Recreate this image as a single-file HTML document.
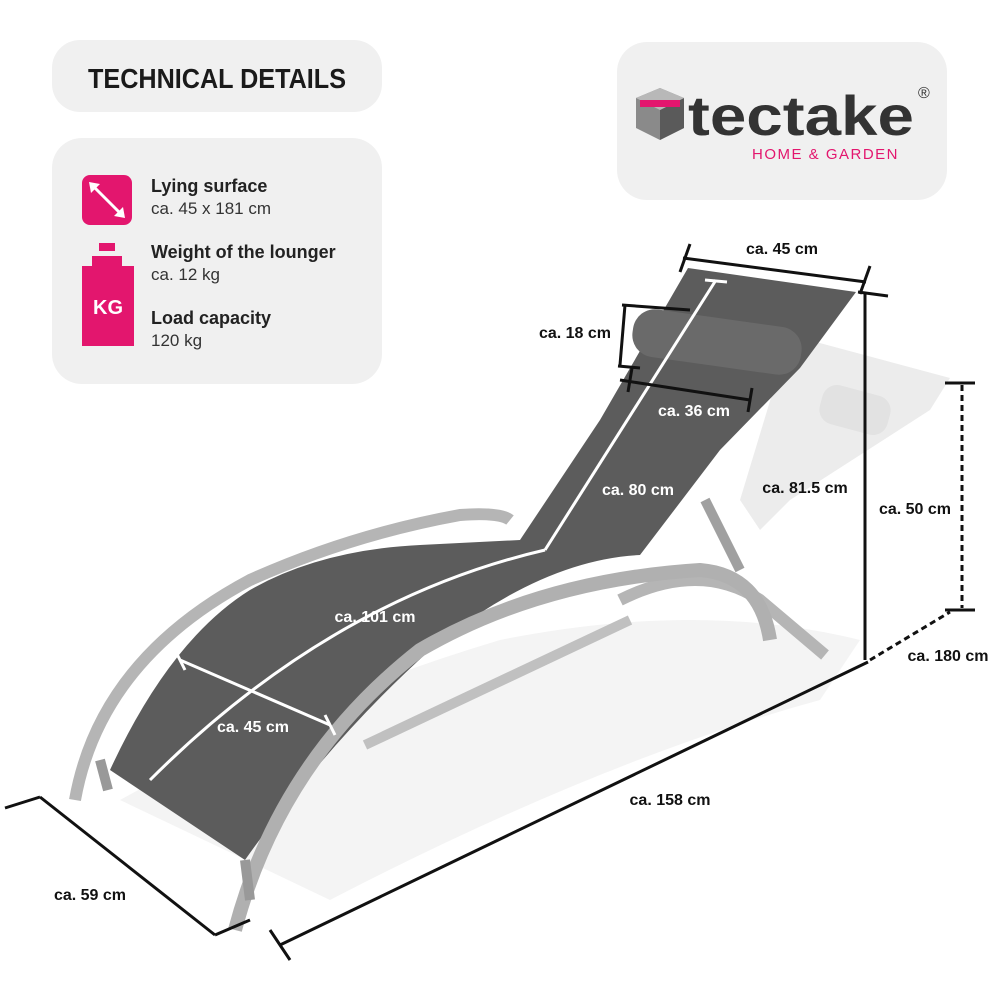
<!DOCTYPE html>
<html><head><meta charset="utf-8"><style>
html,body{margin:0;padding:0;background:#fff}
svg{display:block}
text{font-family:"Liberation Sans",sans-serif}
</style></head><body>
<svg width="1000" height="1000" viewBox="0 0 1000 1000" xmlns="http://www.w3.org/2000/svg">
<rect width="1000" height="1000" fill="#fff"/>
<!-- floor shadow -->
<path d="M120,800 Q300,700 500,640 Q700,600 860,640 L820,700 Q600,760 330,900 Z" fill="#f4f4f4"/>
<!-- panels -->
<rect x="52" y="40" width="330" height="72" rx="28" fill="#f0f0f0"/>
<text x="88" y="88" font-size="28" font-weight="bold" fill="#1a1a1a" textLength="258" lengthAdjust="spacingAndGlyphs">TECHNICAL DETAILS</text>
<rect x="52" y="138" width="330" height="246" rx="30" fill="#f0f0f0"/>
<rect x="82" y="175" width="50" height="50" rx="8" fill="#e3166e"/>
<line x1="92" y1="185" x2="122" y2="215" stroke="#fff" stroke-width="3"/>
<polygon points="89,182 100,184 91,193" fill="#fff"/>
<polygon points="125,218 114,216 123,207" fill="#fff"/>
<rect x="99" y="243" width="16" height="8" fill="#e3166e"/>
<path d="M92,256 L122,256 L122,266 L134,266 L134,346 L82,346 L82,266 L92,266 Z" fill="#e3166e"/>
<text x="108" y="314" font-size="20" font-weight="bold" fill="#fff" text-anchor="middle">KG</text>
<text x="151" y="192" font-size="18" font-weight="bold" fill="#222">Lying surface</text>
<text x="151" y="214" font-size="17" fill="#333">ca. 45 x 181 cm</text>
<text x="151" y="258" font-size="18" font-weight="bold" fill="#222">Weight of the lounger</text>
<text x="151" y="280" font-size="17" fill="#333">ca. 12 kg</text>
<text x="151" y="324" font-size="18" font-weight="bold" fill="#222">Load capacity</text>
<text x="151" y="346" font-size="17" fill="#333">120 kg</text>
<!-- logo -->
<rect x="617" y="42" width="330" height="158" rx="30" fill="#f0f0f0"/>
<polygon points="636,98 660,88 684,98 684,128 660,140 636,128" fill="#8a8a8a"/>
<polygon points="660,110 684,98 684,128 660,140" fill="#5a5a5a"/>
<polygon points="636,98 660,88 684,98 660,110" fill="#b8b8b8"/>
<rect x="640" y="100" width="40" height="7" fill="#e3166e"/>
<text x="688" y="135" font-size="56" font-weight="bold" fill="#333" textLength="226" lengthAdjust="spacingAndGlyphs">tectake</text>
<text x="918" y="98" font-size="16" fill="#333">®</text>
<text x="752" y="159" font-size="15" fill="#e3166e" letter-spacing="1.5">HOME &amp; GARDEN</text>
<!-- ghost reclined back -->
<polygon points="790,335 950,378 930,410 790,500 760,530 740,500" fill="#ececec"/>
<rect x="820" y="390" width="70" height="40" rx="15" fill="#e2e2e2" transform="rotate(15 855 410)"/>
<!-- frame back tubes -->
<path d="M620,600 Q700,560 760,600 L825,655" fill="none" stroke="#b5b5b5" stroke-width="12"/>
<path d="M365,745 L630,620" fill="none" stroke="#c0c0c0" stroke-width="10"/>
<path d="M705,500 L740,570" fill="none" stroke="#a0a0a0" stroke-width="10"/>
<!-- fabric -->
<path d="M688,268 L856,292 L800,368 L720,450 L640,555 Q540,560 430,650 Q330,740 245,860 L110,770 Q170,640 250,590 Q320,550 420,545 L520,540 L600,420 Z" fill="#5c5c5c"/>
<rect x="632" y="318" width="170" height="48" rx="22" fill="#6a6a6a" transform="rotate(8 717 342)"/>
<!-- frame front -->
<path d="M75,800 Q100,660 250,580 Q350,535 460,515 Q500,512 510,520" fill="none" stroke="#b5b5b5" stroke-width="12"/>
<path d="M235,930 Q280,760 420,650 Q540,580 700,570 Q760,575 770,640" fill="none" stroke="#b0b0b0" stroke-width="14"/>
<path d="M100,760 L108,790 M245,860 L250,900" stroke="#999" stroke-width="10"/>
<!-- white dims -->
<g stroke="#fff" stroke-width="3" fill="none">
<line x1="716" y1="280" x2="545" y2="550"/>
<line x1="705" y1="280" x2="727" y2="282"/>
<path d="M545,550 Q330,600 150,780"/>
<line x1="180" y1="660" x2="330" y2="725"/>
<line x1="175" y1="650" x2="185" y2="670"/><line x1="325" y1="715" x2="335" y2="735"/>
</g>
<!-- black dims -->
<g stroke="#111" stroke-width="3" fill="none">
<line x1="683" y1="258" x2="866" y2="282"/>
<line x1="690" y1="244" x2="680" y2="272"/><line x1="870" y1="266" x2="860" y2="294"/>
<line x1="625" y1="305" x2="620" y2="365"/>
<line x1="622" y1="305" x2="690" y2="310"/><line x1="618" y1="366" x2="640" y2="368"/>
<line x1="620" y1="380" x2="750" y2="400"/>
<line x1="632" y1="368" x2="628" y2="392"/><line x1="752" y1="388" x2="748" y2="412"/>
<line x1="865" y1="292" x2="865" y2="660"/>
<line x1="858" y1="292" x2="888" y2="296"/>
<line x1="280" y1="945" x2="868" y2="662"/>
<line x1="270" y1="930" x2="290" y2="960"/>
<line x1="40" y1="797" x2="215" y2="935"/>
<line x1="5" y1="808" x2="40" y2="797"/><line x1="215" y1="935" x2="250" y2="920"/>
<line x1="945" y1="383" x2="975" y2="383"/>
<line x1="945" y1="610" x2="975" y2="610"/>
</g>
<g stroke="#111" stroke-width="3" stroke-dasharray="6,4" fill="none">
<line x1="962" y1="385" x2="962" y2="608"/>
<line x1="870" y1="660" x2="950" y2="612"/>
</g>
<g font-size="16" font-weight="bold" text-anchor="middle">
<text x="782" y="254" fill="#111">ca. 45 cm</text>
<text x="575" y="338" fill="#111">ca. 18 cm</text>
<text x="694" y="416" fill="#fff">ca. 36 cm</text>
<text x="638" y="495" fill="#fff">ca. 80 cm</text>
<text x="805" y="493" fill="#111">ca. 81.5 cm</text>
<text x="915" y="514" fill="#111">ca. 50 cm</text>
<text x="948" y="661" fill="#111">ca. 180 cm</text>
<text x="375" y="622" fill="#fff">ca. 101 cm</text>
<text x="253" y="732" fill="#fff">ca. 45 cm</text>
<text x="670" y="805" fill="#111">ca. 158 cm</text>
<text x="90" y="900" fill="#111">ca. 59 cm</text>
</g>
</svg>
</body></html>
